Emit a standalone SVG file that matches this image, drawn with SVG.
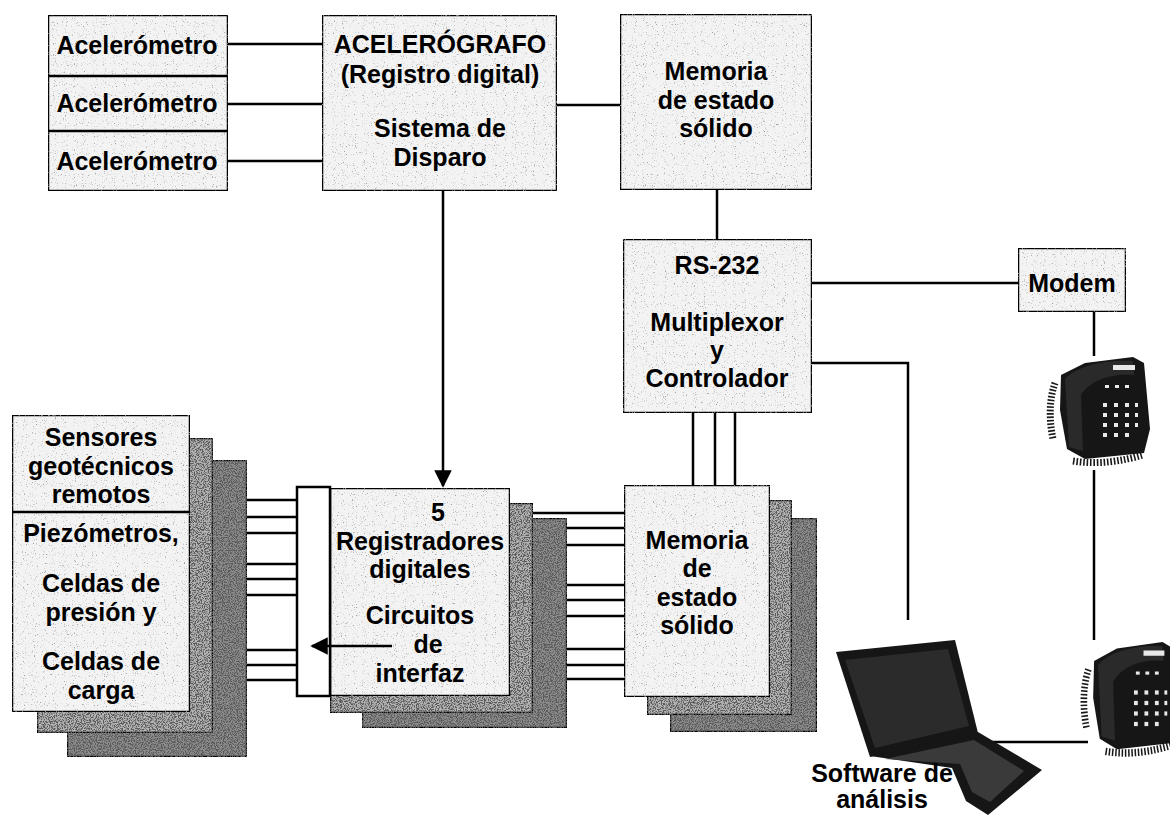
<svg xmlns="http://www.w3.org/2000/svg" width="1170" height="816" viewBox="0 0 1170 816">
  <defs>
    <style>
      .box { fill: #f3f3f3; stroke: #000; stroke-width: 2.5; }
      .back2 { fill: #b4b4b4; stroke: #000; stroke-width: 2.5; }
      .back3 { fill: #8c8c8c; stroke: #000; stroke-width: 2.5; }
      .plain { fill: #ffffff; stroke: #000; stroke-width: 2.5; }
      .wire { fill: none; stroke: #000; stroke-width: 2.5; }
      .lbl { font-family: "Liberation Sans", Arial, sans-serif; font-weight: bold; font-size: 25px; fill: #000; text-anchor: middle; }
      .dev { fill: #161616; }
      .key { fill: #e8e8e8; }
      .cord { fill: none; stroke: #1a1a1a; stroke-width: 7; stroke-dasharray: 1.6 1.8; }
    </style>
    <!-- light grain for the front panels -->
    <filter id="grain" x="0" y="0" width="1" height="1">
      <feTurbulence type="fractalNoise" baseFrequency="0.9" numOctaves="2" seed="4" result="n"/>
      <feColorMatrix in="n" type="matrix" values="0 0 0 0 0.35  0 0 0 0 0.35  0 0 0 0 0.35  5 0 0 0 -3.1" result="dots"/>
      <feComposite in="dots" in2="SourceGraphic" operator="in" result="d"/>
      <feMerge><feMergeNode in="SourceGraphic"/><feMergeNode in="d"/></feMerge>
    </filter>
    <!-- heavy grain for the stacked back panels -->
    <filter id="heavy" x="0" y="0" width="1" height="1">
      <feTurbulence type="fractalNoise" baseFrequency="0.85" numOctaves="2" seed="9" result="n"/>
      <feColorMatrix in="n" type="matrix" values="0 0 0 0 0.1  0 0 0 0 0.1  0 0 0 0 0.1  6 0 0 0 -2.6" result="dots"/>
      <feComposite in="dots" in2="SourceGraphic" operator="in" result="d"/>
      <feMerge><feMergeNode in="SourceGraphic"/><feMergeNode in="d"/></feMerge>
    </filter>
    <marker id="arrow" viewBox="0 0 10 10" refX="9" refY="5" markerWidth="7" markerHeight="7" markerUnits="strokeWidth" orient="auto">
      <path d="M0,0 L10,5 L0,10 Z" fill="#000"/>
    </marker>
    <!-- desk telephone symbol -->
    <g id="phone">
      <path class="cord" d="M12,28 C6,45 6,65 10,84"/>
      <path class="cord" d="M30,106 C55,110 80,106 100,100"/>
      <path class="dev" d="M18,20 L42,8 L90,2 L101,8 L107,74 L101,98 L42,104 L24,94 L17,55 Z"/>
      <path d="M22,24 C34,10 66,4 90,6 L91,20 C70,18 48,24 38,40 L40,96 L26,92 Z" fill="#2a2a2a"/>
      <rect class="key" x="70" y="10" width="22" height="5"/>
      <g class="key">
        <rect x="62" y="30" width="4" height="3"/><rect x="72" y="30" width="4" height="3"/><rect x="82" y="30" width="4" height="3"/>
        <rect x="60" y="48" width="4" height="4"/><rect x="71" y="48" width="4" height="4"/><rect x="82" y="48" width="4" height="4"/><rect x="92" y="48" width="3" height="4"/>
        <rect x="60" y="58" width="4" height="4"/><rect x="71" y="58" width="4" height="4"/><rect x="82" y="58" width="4" height="4"/><rect x="92" y="58" width="3" height="4"/>
        <rect x="60" y="68" width="4" height="4"/><rect x="71" y="68" width="4" height="4"/><rect x="82" y="68" width="4" height="4"/><rect x="92" y="68" width="3" height="4"/>
        <rect x="60" y="78" width="4" height="4"/><rect x="71" y="78" width="4" height="4"/><rect x="82" y="78" width="4" height="4"/>
      </g>
    </g>
  </defs>

  <rect x="0" y="0" width="1170" height="816" fill="#ffffff"/>

  <!-- connectors -->
  <g id="connectors" class="wire">
    <line x1="228" y1="44" x2="322" y2="44"/>
    <line x1="228" y1="104" x2="322" y2="104"/>
    <line x1="228" y1="161" x2="322" y2="161"/>
    <line x1="557" y1="105" x2="620" y2="105"/>
    <line x1="717" y1="190" x2="717" y2="239"/>
    <line x1="443" y1="190" x2="443" y2="486" marker-end="url(#arrow)"/>
    <line x1="693" y1="413" x2="693" y2="485"/>
    <line x1="715" y1="413" x2="715" y2="485"/>
    <line x1="735" y1="413" x2="735" y2="485"/>
    <line x1="812" y1="283" x2="1018" y2="283"/>
    <polyline points="812,363 908,363 908,620"/>
    <line x1="1094" y1="312" x2="1094" y2="356"/>
    <line x1="1094" y1="470" x2="1094" y2="640"/>
    <line x1="984" y1="742" x2="1088" y2="742"/>
    <!-- sensor lines into the interface column -->
    <line x1="190" y1="500" x2="297" y2="500"/>
    <line x1="190" y1="517" x2="297" y2="517"/>
    <line x1="247" y1="533" x2="297" y2="533"/>
    <line x1="190" y1="564" x2="297" y2="564"/>
    <line x1="190" y1="579" x2="297" y2="579"/>
    <line x1="247" y1="595" x2="297" y2="595"/>
    <line x1="190" y1="650" x2="297" y2="650"/>
    <line x1="190" y1="665" x2="297" y2="665"/>
    <line x1="247" y1="680" x2="297" y2="680"/>
    <!-- recorder lines into the memory stack -->
    <line x1="510" y1="513" x2="624" y2="513"/>
    <line x1="567" y1="528" x2="624" y2="528"/>
    <line x1="567" y1="545" x2="624" y2="545"/>
    <line x1="510" y1="585" x2="624" y2="585"/>
    <line x1="567" y1="600" x2="624" y2="600"/>
    <line x1="567" y1="616" x2="624" y2="616"/>
    <line x1="510" y1="649" x2="624" y2="649"/>
    <line x1="567" y1="665" x2="624" y2="665"/>
    <line x1="567" y1="679" x2="624" y2="679"/>
  </g>

  <!-- accelerometers -->
  <g id="acelerometros">
    <rect class="box" x="48" y="15" width="180" height="176" filter="url(#grain)"/>
    <line class="wire" x1="48" y1="76" x2="228" y2="76"/>
    <line class="wire" x1="48" y1="131" x2="228" y2="131"/>
    <text class="lbl" x="137" y="54">Acelerómetro</text>
    <text class="lbl" x="137" y="112">Acelerómetro</text>
    <text class="lbl" x="137" y="170">Acelerómetro</text>
  </g>

  <g id="acelerografo">
    <rect class="box" x="322" y="15" width="235" height="176" filter="url(#grain)"/>
    <text class="lbl" x="440" y="53">ACELERÓGRAFO</text>
    <text class="lbl" x="440" y="83">(Registro digital)</text>
    <text class="lbl" x="440" y="137">Sistema de</text>
    <text class="lbl" x="440" y="166">Disparo</text>
  </g>

  <g id="memoria-superior">
    <rect class="box" x="620" y="14" width="192" height="176" filter="url(#grain)"/>
    <text class="lbl" x="716" y="80">Memoria</text>
    <text class="lbl" x="716" y="109">de estado</text>
    <text class="lbl" x="716" y="137">sólido</text>
  </g>

  <g id="rs232">
    <rect class="box" x="623" y="239" width="189" height="174" filter="url(#grain)"/>
    <text class="lbl" x="717" y="274">RS-232</text>
    <text class="lbl" x="717" y="331">Multiplexor</text>
    <text class="lbl" x="717" y="359">y</text>
    <text class="lbl" x="717" y="387">Controlador</text>
  </g>

  <g id="modem">
    <rect class="box" x="1018" y="248" width="108" height="64" filter="url(#grain)"/>
    <text class="lbl" x="1072" y="292">Modem</text>
  </g>

  <!-- remote geotechnical sensors, stacked -->
  <g id="sensores">
    <rect class="back3" x="67" y="460" width="180" height="297" filter="url(#heavy)"/>
    <rect class="back2" x="37" y="438" width="176" height="295" filter="url(#heavy)"/>
    <rect class="box" x="12" y="415" width="178" height="297" filter="url(#grain)"/>
    <line class="wire" x1="12" y1="512" x2="190" y2="512"/>
    <text class="lbl" x="101" y="446">Sensores</text>
    <text class="lbl" x="101" y="475">geotécnicos</text>
    <text class="lbl" x="101" y="503">remotos</text>
    <text class="lbl" x="101" y="542">Piezómetros,</text>
    <text class="lbl" x="101" y="592">Celdas de</text>
    <text class="lbl" x="101" y="621">presión y</text>
    <text class="lbl" x="101" y="670">Celdas de</text>
    <text class="lbl" x="101" y="699">carga</text>
  </g>

  <!-- digital recorders with interface circuits -->
  <g id="registradores">
    <rect class="back3" x="362" y="518" width="205" height="210" filter="url(#heavy)"/>
    <rect class="back2" x="330" y="503" width="203" height="210" filter="url(#heavy)"/>
    <rect class="box" x="330" y="488" width="180" height="208" filter="url(#grain)"/>
    <rect class="plain" x="297" y="487" width="33" height="209"/>
    <text class="lbl" x="438" y="521">5</text>
    <text class="lbl" x="420" y="550">Registradores</text>
    <text class="lbl" x="420" y="578">digitales</text>
    <text class="lbl" x="420" y="624">Circuitos</text>
    <text class="lbl" x="428" y="653">de</text>
    <text class="lbl" x="420" y="682">interfaz</text>
    <line class="wire" x1="392" y1="646" x2="312" y2="646" marker-end="url(#arrow)"/>
  </g>

  <g id="memoria-inferior">
    <rect class="back3" x="670" y="518" width="147" height="214" filter="url(#heavy)"/>
    <rect class="back2" x="647" y="500" width="145" height="215" filter="url(#heavy)"/>
    <rect class="box" x="624" y="485" width="146" height="212" filter="url(#grain)"/>
    <text class="lbl" x="697" y="549">Memoria</text>
    <text class="lbl" x="697" y="577">de</text>
    <text class="lbl" x="697" y="606">estado</text>
    <text class="lbl" x="697" y="634">sólido</text>
  </g>

  <g id="telefono-1">
    <use href="#phone" transform="translate(1043,355)"/>
  </g>
  <g id="telefono-2">
    <use href="#phone" transform="translate(1077,640) scale(0.95,1.05)"/>
  </g>

  <!-- analysis laptop -->
  <g id="laptop">
    <path class="dev" d="M870,756 L978,732 L1042,770 L988,815 L966,801 L952,768 Z"/>
    <path d="M885,759 L974,740 L1024,771 L990,802 L972,792 L960,764 Z" fill="#3a3a3a"/>
    <path class="dev" d="M836,652 L955,640 L978,733 L870,757 Z"/>
    <path d="M845,660 L948,649 L969,726 L875,748 Z" fill="#2b2b2b"/>
    <text class="lbl" x="882" y="782">Software de</text>
    <text class="lbl" x="882" y="808">análisis</text>
  </g>
</svg>
